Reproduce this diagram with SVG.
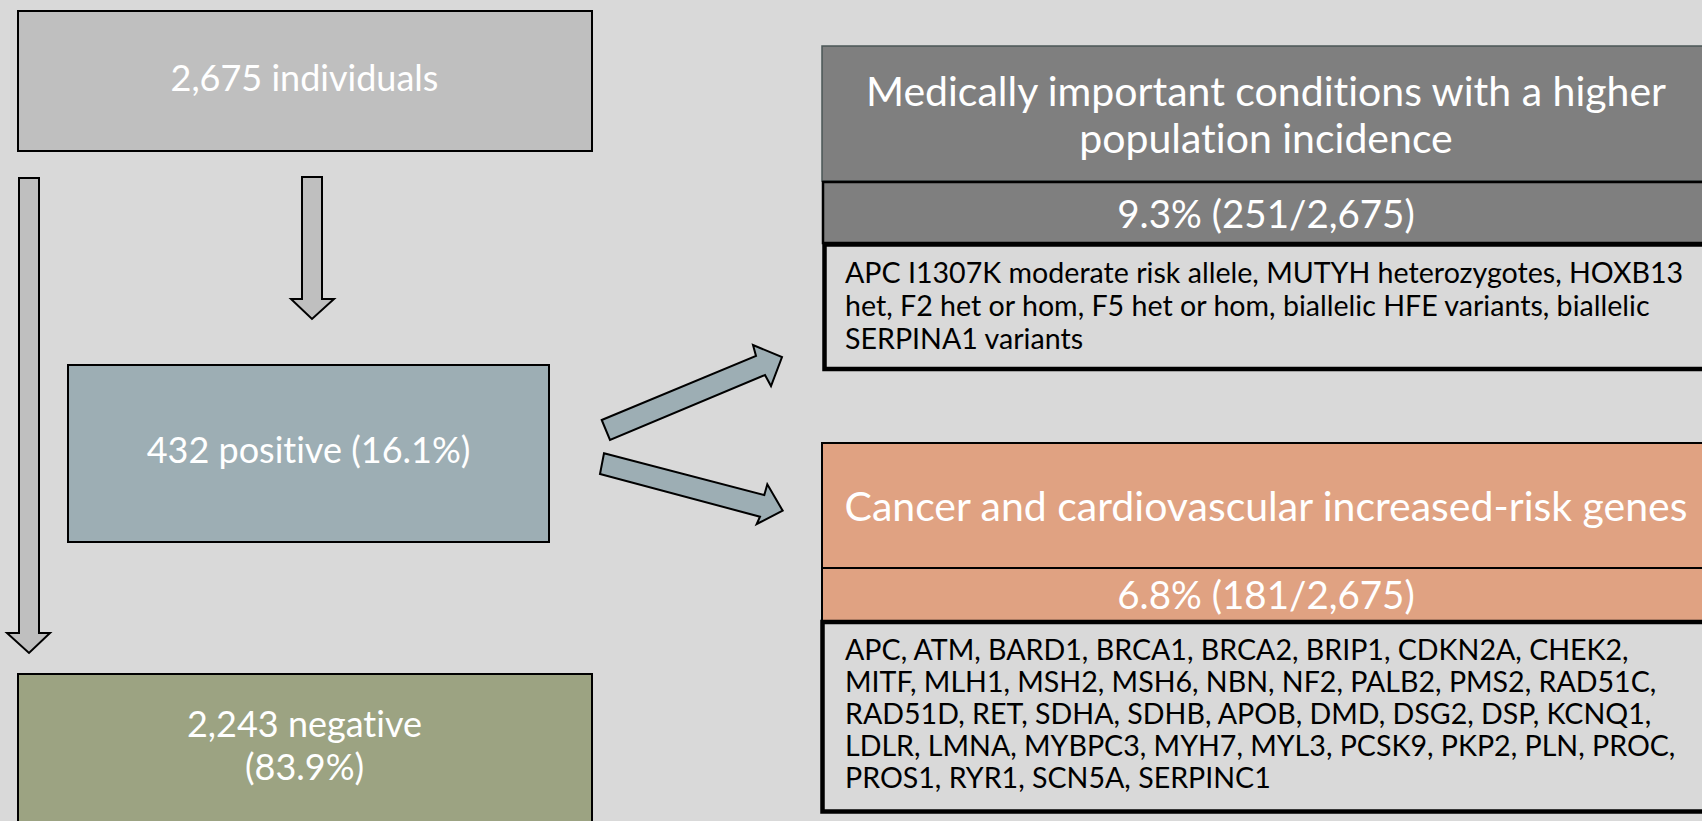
<svg xmlns="http://www.w3.org/2000/svg" width="1702" height="821" viewBox="0 0 1702 821">
<style>
text{font-variant-ligatures:none;font-feature-settings:"liga" 0}
.big{font-family:"Lato","Liberation Sans",sans-serif;font-size:36px;fill:#ffffff;text-anchor:middle}
.hdr{font-family:"Lato","Liberation Sans",sans-serif;font-size:41px;fill:#ffffff;text-anchor:middle}
.pct{font-family:"Lato","Liberation Sans",sans-serif;font-size:38.5px;fill:#ffffff;text-anchor:middle}
.lst{font-family:"Lato","Liberation Sans",sans-serif;font-size:28.6px;fill:#000000}
.varrow{fill:#bfbfbf;stroke:#000;stroke-width:2;stroke-linejoin:miter}
.darrow{fill:#9daeb4;stroke:#000;stroke-width:2;stroke-linejoin:miter}
</style>
<rect x="0" y="0" width="1702" height="821" fill="#d9d9d9"/>
<g id="n-individuals">
<rect x="18" y="11" width="574" height="140" fill="#bfbfbf" stroke="#000" stroke-width="2"/>
<text class="big" x="304.5" y="91">2,675 individuals</text>
</g>
<g id="n-positive">
<rect x="68" y="365" width="481" height="177" fill="#9daeb4" stroke="#000" stroke-width="2"/>
<text class="big" x="308.5" y="463">432 positive (16.1%)</text>
</g>
<g id="n-negative">
<rect x="18" y="674" width="574" height="160" fill="#9ca382" stroke="#000" stroke-width="2"/>
<text class="big" x="304.5" y="737">2,243 negative</text>
<text class="big" x="304.5" y="780">(83.9%)</text>
</g>
<g id="n-medical">
<rect x="822" y="46" width="892" height="135" fill="#7f7f7f" stroke="#4b5757" stroke-width="1.5"/>
<rect x="823" y="182" width="891" height="61" fill="#7f7f7f" stroke="#000" stroke-width="2.5"/>
<rect x="824.5" y="244.5" width="890" height="124.5" fill="#d9d9d9" stroke="#000" stroke-width="4.5"/>
<text class="hdr" x="1266" y="106">Medically important conditions with a higher</text>
<text class="hdr" x="1266" y="153">population incidence</text>
<text class="pct" x="1266" y="228">9.3% (251/2,675)</text>
<text class="lst" x="845" y="283">APC I1307K moderate risk allele, MUTYH heterozygotes, HOXB13</text>
<text class="lst" x="845" y="316">het, F2 het or hom, F5 het or hom, biallelic HFE variants, biallelic</text>
<text class="lst" x="845" y="349">SERPINA1 variants</text>
</g>
<g id="n-cancer">
<rect x="822" y="443" width="892" height="125" fill="#e0a282" stroke="#000" stroke-width="2"/>
<rect x="822" y="568" width="892" height="54" fill="#e0a282" stroke="#000" stroke-width="2"/>
<rect x="822.5" y="622" width="892" height="189.5" fill="#d9d9d9" stroke="#000" stroke-width="4.5"/>
<text class="hdr" x="1266" y="521">Cancer and cardiovascular increased-risk genes</text>
<text class="pct" x="1266" y="609">6.8% (181/2,675)</text>
<text class="lst" x="845" y="660">APC, ATM, BARD1, BRCA1, BRCA2, BRIP1, CDKN2A, CHEK2,</text>
<text class="lst" x="845" y="692">MITF, MLH1, MSH2, MSH6, NBN, NF2, PALB2, PMS2, RAD51C,</text>
<text class="lst" x="845" y="724">RAD51D, RET, SDHA, SDHB, APOB, DMD, DSG2, DSP, KCNQ1,</text>
<text class="lst" x="845" y="756">LDLR, LMNA, MYBPC3, MYH7, MYL3, PCSK9, PKP2, PLN, PROC,</text>
<text class="lst" x="845" y="788">PROS1, RYR1, SCN5A, SERPINC1</text>
</g>
<g id="connectors">
<polygon class="varrow" points="302,177 322,177 322,299 334,299 312,319 291,299 302,299"/>
<polygon class="varrow" points="19,178 39,178 39,633 50,633 29,653 7,633 19,633"/>
<polygon class="darrow" points="601.7,420 756,356 753,345 782,357 771,386 765,375 610,440"/>
<polygon class="darrow" points="604,453.3 764.3,495 767.3,484.3 782.7,510.7 756.7,524 760,516.7 600,474"/>
</g>
</svg>
